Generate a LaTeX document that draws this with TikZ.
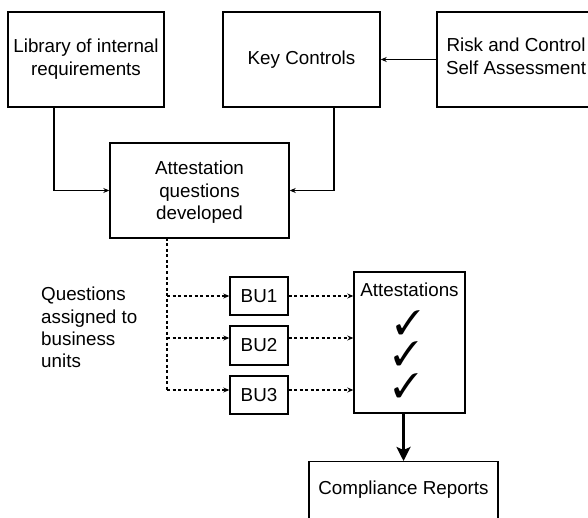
\documentclass[tikz,border=0pt]{standalone}
\usepackage{fontspec}
\setmainfont{Liberation Sans}
\usepackage{pifont}
\usetikzlibrary{arrows.meta}
\tikzset{
  box/.style={draw, line width=1.4pt, rectangle, inner sep=0pt, align=center},
  txt/.style={font=\fontsize{18.8}{22.5}\selectfont, align=center, inner sep=0pt},
  conn/.style={line width=1.1pt, -{Stealth[length=6pt,width=5pt]}},
  dotconn/.style={line width=1.2pt, dash pattern=on 3pt off 2.5pt, -{Stealth[length=6pt,width=5pt]}},
  thick arrow/.style={line width=2.6pt, -{Stealth[length=14pt,width=14pt,inset=3pt]}},
  chk/.style={font=\fontsize{34}{34}\selectfont, inner sep=0pt}
}
\begin{document}
\begin{tikzpicture}[x=1pt,y=-1pt]
\useasboundingbox (0,0) rectangle (588,518);
\clip (0,0) rectangle (588,518);
% top row
\node[box, minimum width=156, minimum height=95] (lib) at (86,59.5) {};
\node[txt] (libt) at (86,59) {Library of internal\\requirements};
\node[box, minimum width=157, minimum height=95] (key) at (301.5,59.5) {};
\node[txt] (keyt) at (301.5,60) {Key Controls};
\node[box, minimum width=157, minimum height=95] (rcsa) at (515.5,59.5) {};
\node[txt] (rcsat) at (516,56.5) {Risk and Control\\Self Assessment};
% attestation questions
\node[box, minimum width=179, minimum height=95] (aq) at (199.5,190.5) {};
\node[txt] (aqt) at (199.5,192.5) {Attestation\\questions\\developed};
% business units
\node[box, txt, draw, line width=1.4pt, minimum width=58, minimum height=38] (bu1) at (259,296) {BU1};
\node[box, txt, draw, line width=1.4pt, minimum width=58, minimum height=39] (bu2) at (259,345.5) {BU2};
\node[box, txt, draw, line width=1.4pt, minimum width=58, minimum height=38] (bu3) at (259,395) {BU3};
\node[txt, align=left, anchor=north west, font=\fontsize{18.8}{22.3}\selectfont] (q) at (41,287) {Questions\\assigned to\\business\\units};
% attestations
\node[box, minimum width=111, minimum height=141] (att) at (409.5,342.5) {};
\node[txt] (attt) at (409.5,290) {Attestations};
\node[chk] (c1) at (408,323) {\ding{51}};
\node[chk] (c2) at (406,354) {\ding{51}};
\node[chk] (c3) at (406,386) {\ding{51}};
% compliance
\node[box, minimum width=189, minimum height=80, anchor=north] (cr) at (403.5,461) {};
\node[txt] (crt) at (403.5,490) {Compliance Reports};
% connectors
\draw[conn] (rcsa.west) -- (key.east);
\draw[conn] ([xshift=-32pt]lib.south) |- (aq.west);
\draw[conn] ([xshift=32.5pt]key.south) |- (aq.east);
\coordinate (j0) at (167,238);
\coordinate (j1) at (167,296);
\coordinate (j2) at (167,338);
\coordinate (j3) at (167,390);
\draw[line width=1.2pt, dash pattern=on 3pt off 2.5pt] (j0) -- (j3);
\draw[dotconn] (j1) -- (j1 -| bu1.west);
\draw[dotconn] (j2) -- (j2 -| bu2.west);
\draw[dotconn] (j3) -- (j3 -| bu3.west);
\draw[dotconn] (bu1.east |- j1) -- (j1 -| att.west);
\draw[dotconn] (bu2.east |- j2) -- (j2 -| att.west);
\draw[dotconn] (bu3.east |- j3) -- (j3 -| att.west);
\draw[thick arrow] (cr.north |- att.south) -- (cr.north);
\end{tikzpicture}
\end{document}
